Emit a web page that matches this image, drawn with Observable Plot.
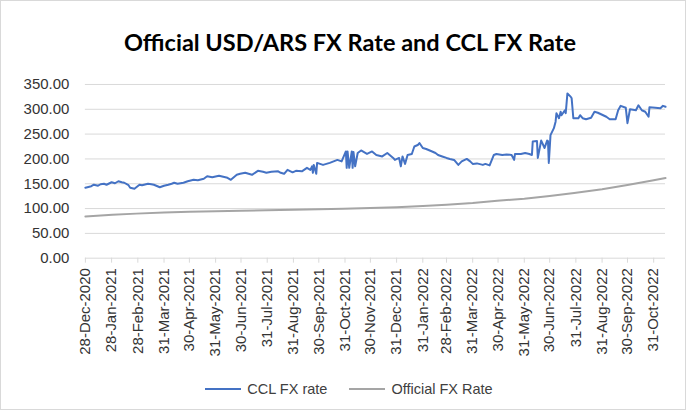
<!DOCTYPE html>
<html>
<head>
<meta charset="utf-8">
<script src="https://cdn.jsdelivr.net/npm/d3@7"></script>
<script src="https://cdn.jsdelivr.net/npm/@observablehq/plot@0.6"></script>
<style>
  html, body { margin: 0; padding: 0; background: #fff; }
  #frame { position: relative; width: 686px; height: 410px; box-sizing: border-box; border: 1px solid #d9d9d9; background: #fff; overflow: hidden; }
  #title { position: absolute; left: 14px; right: 0; top: 27px; text-align: center; font-family: Lato, "Open Sans", sans-serif; font-weight: bold; font-size: 23.5px; color: #000; }
  #chart { position: absolute; left: -1px; top: 59px; }
  #chart g[aria-label="x-axis tick label"], #chart g[aria-label="y-axis tick label"] { font-size: 15px; }
  #legend { position: absolute; left: 12px; right: 0; top: 380px; display: flex; justify-content: center; align-items: center; font-family: "Liberation Sans", Arial, sans-serif; font-size: 14.5px; color: #404040; }
  .item { display: flex; align-items: center; margin: 0 11px; }
  .sw { width: 36px; height: 2px; margin-right: 6px; }
</style>
</head>
<body>
<div id="frame">
  <div id="title">Official USD/ARS FX Rate and CCL FX Rate</div>
  <div id="chart"></div>
  <div id="legend">
    <div class="item"><div class="sw" style="background:#4472C4"></div><span>CCL FX rate</span></div>
    <div class="item"><div class="sw" style="background:#A5A5A5"></div><span>Official FX Rate</span></div>
  </div>
</div>
<script>
// CCL FX rate (ARS per USD)
const cclDates = [
  "2020-12-28","2021-01-04","2021-01-07","2021-01-12","2021-01-15","2021-01-19","2021-01-22","2021-01-28",
  "2021-02-01","2021-02-05","2021-02-09","2021-02-12","2021-02-17","2021-02-19","2021-02-24","2021-03-02",
  "2021-03-05","2021-03-12","2021-03-16","2021-03-19","2021-03-26","2021-03-31","2021-04-05","2021-04-09",
  "2021-04-12","2021-04-16","2021-04-23","2021-04-28","2021-05-05","2021-05-10","2021-05-17","2021-05-21",
  "2021-05-27","2021-06-04","2021-06-09","2021-06-14","2021-06-18","2021-06-25","2021-06-29","2021-07-05",
  "2021-07-09","2021-07-13","2021-07-20","2021-07-26","2021-07-30","2021-08-05","2021-08-13","2021-08-16",
  "2021-08-20","2021-08-24","2021-08-30","2021-09-03","2021-09-10","2021-09-16","2021-09-20","2021-09-22",
  "2021-09-23","2021-09-24","2021-09-27","2021-09-28","2021-10-05","2021-10-13","2021-10-22","2021-10-27",
  "2021-11-01","2021-11-02","2021-11-03","2021-11-05","2021-11-08","2021-11-09","2021-11-10","2021-11-12",
  "2021-11-15","2021-11-19","2021-11-26","2021-12-02","2021-12-07","2021-12-14","2021-12-20","2021-12-27",
  "2021-12-29","2022-01-03","2022-01-05","2022-01-07","2022-01-10","2022-01-13","2022-01-18","2022-01-21",
  "2022-01-25","2022-01-27","2022-01-31","2022-02-04","2022-02-11","2022-02-15","2022-02-18","2022-02-23",
  "2022-02-28","2022-03-04","2022-03-09","2022-03-14","2022-03-18","2022-03-24","2022-03-28","2022-03-31",
  "2022-04-05","2022-04-12","2022-04-15","2022-04-20","2022-04-25","2022-04-28","2022-05-05","2022-05-10",
  "2022-05-16","2022-05-19","2022-05-20","2022-05-27","2022-06-01","2022-06-06","2022-06-09","2022-06-10",
  "2022-06-15","2022-06-16","2022-06-20","2022-06-24","2022-06-27","2022-06-28","2022-06-29","2022-07-01",
  "2022-07-05","2022-07-07","2022-07-08","2022-07-11","2022-07-13","2022-07-14","2022-07-18","2022-07-19",
  "2022-07-21","2022-07-25","2022-07-26","2022-07-28","2022-08-03","2022-08-05","2022-08-08","2022-08-12",
  "2022-08-18","2022-08-22","2022-08-26","2022-09-05","2022-09-09","2022-09-16","2022-09-19","2022-09-22",
  "2022-09-28","2022-09-30","2022-10-03","2022-10-10","2022-10-13","2022-10-17","2022-10-21","2022-10-25",
  "2022-10-26","2022-11-02","2022-11-08","2022-11-11","2022-11-14"
];
const cclValues = [
  142,145,148,146,149,150,148,153,
  151,155,153,152,147,142,140,148,
  147,150,149,148,143,146,148,150,
  152,150,152,155,158,157,160,165,
  163,166,164,162,158,168,170,172,
  170,168,176,174,172,174,175,172,
  170,178,173,176,175,182,178,185,
  172,188,170,192,188,192,198,195,
  215,182,215,182,215,182,214,185,
  212,217,210,215,208,205,212,202,
  198,202,185,205,190,208,210,225,
  228,232,222,220,215,212,208,205,
  202,200,198,188,195,200,195,190,
  191,188,190,187,208,210,208,209,
  208,198,210,210,212,210,208,235,
  236,202,237,222,237,236,192,248,
  262,275,292,282,295,288,298,292,
  332,325,322,282,282,288,282,280,
  283,295,293,285,280,280,298,307,
  303,272,300,298,308,298,295,285,
  304,303,302,307,305
];

// Official FX rate (ARS per USD)
const officialDates = [
  "2020-12-28","2021-01-29","2021-02-26","2021-03-31","2021-04-30","2021-05-31","2021-06-30","2021-07-30",
  "2021-08-31","2021-09-30","2021-10-29","2021-11-30","2021-12-31","2022-01-31","2022-02-28","2022-03-31",
  "2022-04-29","2022-05-31","2022-06-30","2022-07-29","2022-08-31","2022-09-30","2022-10-31","2022-11-14"
];
const officialValues = [
  83.9,87.3,89.8,92.0,93.6,94.8,95.7,96.7,
  97.7,98.7,99.7,101.1,102.7,105.0,107.6,111.0,
  115.5,119.9,125.2,131.3,138.7,147.3,156.9,161.5
];

const xTickDates = [
  "2020-12-28","2021-01-28","2021-02-28","2021-03-31","2021-04-30","2021-05-31","2021-06-30","2021-07-31",
  "2021-08-31","2021-09-30","2021-10-31","2021-11-30","2021-12-31","2022-01-31","2022-02-28","2022-03-31",
  "2022-04-30","2022-05-31","2022-06-30","2022-07-31","2022-08-31","2022-09-30","2022-10-31"
];
const yTicks = [0, 50, 100, 150, 200, 250, 300, 350];

const ccl = cclDates.map((d, i) => ({date: new Date(d), value: cclValues[i]}));
const official = officialDates.map((d, i) => ({date: new Date(d), value: officialValues[i]}));
const fmt = d3.utcFormat("%d-%b-%Y");

const chart = Plot.plot({
  width: 686,
  height: 312,
  marginLeft: 85,
  marginRight: 20,
  marginTop: 24,
  marginBottom: 114,
  style: {fontFamily: "'Liberation Sans', Arial, sans-serif", fontSize: "15px", color: "#333", background: "transparent", overflow: "visible"},
  x: {type: "utc", domain: [new Date("2020-12-28"), new Date("2022-11-14")]},
  y: {domain: [0, 350]},
  marks: [
    Plot.gridY(yTicks.filter(d => d > 0), {stroke: "#d9d9d9", strokeOpacity: 1, strokeWidth: 1}),
    Plot.ruleY([0], {stroke: "#d9d9d9", strokeWidth: 1}),
    Plot.axisY({ticks: yTicks, tickFormat: d => d.toFixed(2), tickSize: 0, tickPadding: 16, label: null, fontSize: 15}),
    Plot.axisX({ticks: xTickDates.map(d => new Date(d)), tickFormat: fmt, tickRotate: -90, tickSize: 5, tickPadding: 5, stroke: "#d9d9d9", strokeOpacity: 1, label: null, fontSize: 15}),
    Plot.line(official, {x: "date", y: "value", stroke: "#A5A5A5", strokeWidth: 2}),
    Plot.line(ccl, {x: "date", y: "value", stroke: "#4472C4", strokeWidth: 2})
  ]
});
document.getElementById("chart").appendChild(chart);
</script>
</body>
</html>
